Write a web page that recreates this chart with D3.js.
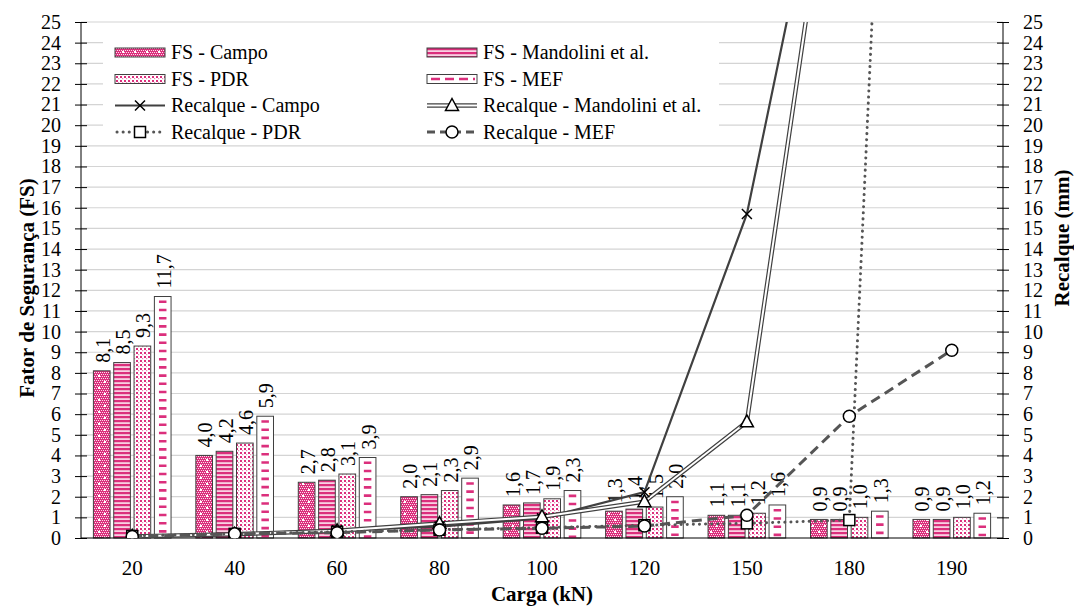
<!DOCTYPE html>
<html>
<head>
<meta charset="utf-8">
<script src="https://cdn.jsdelivr.net/npm/d3@7/dist/d3.min.js"></script>
<style>
  html, body { margin: 0; padding: 0; background: #fff; }
  svg { display: block; }
</style>
</head>
<body>
<svg id="chart" width="1074" height="608"></svg>
<script>
// ---------- DATA ----------
const categories = ["20", "40", "60", "80", "100", "120", "150", "180", "190"];
const fsCampo      = [8.1, 4.0, 2.7, 2.0, 1.6, 1.3, 1.1, 0.9, 0.9];
const fsMandolini  = [8.5, 4.2, 2.8, 2.1, 1.7, 1.4, 1.1, 0.9, 0.9];
const fsPDR        = [9.3, 4.6, 3.1, 2.3, 1.9, 1.5, 1.2, 1.0, 1.0];
const fsMEF        = [11.7, 5.9, 3.9, 2.9, 2.3, 2.0, 1.6, 1.3, 1.2];
const recCampo     = [0.08, 0.2, 0.38, 0.55, 0.95, 2.22, 15.7, 39.6, null];
const recMandolini = [0.08, 0.18, 0.35, 0.7, 1.03, 1.76, 5.63, 39.4, null];
const recPDR       = [0.1, 0.2, 0.3, 0.4, 0.5, 0.62, 0.71, 0.87, 110];
const recMEF       = [0.07, 0.2, 0.26, 0.39, 0.47, 0.58, 1.1, 5.9, 9.1];
const yTicks = d3.range(0, 26);
const fsNames  = ["FS - Campo", "FS - Mandolini et al.", "FS - PDR", "FS - MEF"];
const recNames = ["Recalque - Campo", "Recalque - Mandolini et al.", "Recalque - PDR", "Recalque - MEF"];

// ---------- LAYOUT ----------
const W = 1074, H = 608;
const m = { left: 81, right: 71, top: 22, bottom: 70 };
const x0 = m.left, x1 = W - m.right, yTop = m.top, yBot = H - m.bottom;
const pink = "#db2f7c";
const dark = "#404040";
const FONT = "Liberation Serif";
const fontSize = 20;

const svg = d3.select("#chart").attr("font-family", FONT);
const defs = svg.append("defs");

// patterns
const pCampo = defs.append("pattern").attr("id", "pCampo").attr("patternUnits", "userSpaceOnUse")
  .attr("width", 12).attr("height", 12);
pCampo.append("rect").attr("width", 12).attr("height", 12).attr("fill", pink);
for (let i = 0; i < 6; i++) for (let j = 0; j < 6; j++) {
  pCampo.append("rect").attr("x", i * 2 + (j % 2)).attr("y", j * 2).attr("width", 1).attr("height", 1).attr("fill", "#fbe0ec");
}
pCampo.append("rect").attr("x", 2).attr("y", 3).attr("width", 2).attr("height", 2).attr("fill", "#fff");
pCampo.append("rect").attr("x", 8).attr("y", 9).attr("width", 2).attr("height", 2).attr("fill", "#fff");

const pMand = defs.append("pattern").attr("id", "pMand").attr("patternUnits", "userSpaceOnUse")
  .attr("width", 4).attr("height", 4);
pMand.append("rect").attr("width", 4).attr("height", 4).attr("fill", "#f8d0e2");
pMand.append("rect").attr("width", 4).attr("height", 2.2).attr("fill", pink);

const pPDR = defs.append("pattern").attr("id", "pPDR").attr("patternUnits", "userSpaceOnUse")
  .attr("width", 4).attr("height", 4);
pPDR.append("rect").attr("width", 4).attr("height", 4).attr("fill", "#fff");
pPDR.append("rect").attr("x", 0).attr("y", 0).attr("width", 2).attr("height", 2).attr("fill", pink);
pPDR.append("rect").attr("x", 2).attr("y", 2).attr("width", 1.2).attr("height", 1.2).attr("fill", "#ee8ab8");

defs.append("clipPath").attr("id", "plotClip").append("rect")
  .attr("x", x0).attr("y", yTop).attr("width", x1 - x0).attr("height", yBot - yTop);

// ---------- SCALES ----------
const x = d3.scaleBand().domain(categories).range([x0, x1]).padding(0);
const groupW = x.bandwidth() * 0.758;
const xs = d3.scaleBand().domain(fsNames).range([0, groupW]).paddingInner(0.18).paddingOuter(0);
const y = d3.scaleLinear().domain([0, 25]).range([yBot, yTop]);
const yR = d3.scaleLinear().domain([0, 25]).range([yBot, yTop]);
const cx = c => x(c) + x.bandwidth() / 2;
const gx = c => cx(c) - groupW / 2;

// gridlines
svg.append("g").selectAll("line").data(yTicks.filter(d => d > 0)).join("line")
  .attr("x1", x0).attr("x2", x1).attr("y1", d => y(d)).attr("y2", d => y(d))
  .attr("stroke", "#d4d4d4").attr("stroke-width", 1.2);

// ---------- BARS ----------
const fsSeries = [fsCampo, fsMandolini, fsPDR, fsMEF];
const fills = ["url(#pCampo)", "url(#pMand)", "url(#pPDR)", "#fff"];
const fmt = v => d3.format(".1f")(v).replace(".", ",");

fsSeries.forEach((vals, si) => {
  const data = categories.map((c, i) => ({ c, v: vals[i] }));
  const g = svg.append("g");
  g.selectAll("rect").data(data).join("rect")
    .attr("x", d => gx(d.c) + xs(fsNames[si]))
    .attr("y", d => y(d.v))
    .attr("width", xs.bandwidth())
    .attr("height", d => y(0) - y(d.v))
    .attr("fill", fills[si])
    .attr("stroke", dark).attr("stroke-width", 1);
  if (si === 3) {
    g.selectAll("line.dash").data(data).join("line").attr("class", "dash")
      .attr("x1", d => gx(d.c) + xs(fsNames[si]) + xs.bandwidth() / 2)
      .attr("x2", d => gx(d.c) + xs(fsNames[si]) + xs.bandwidth() / 2)
      .attr("y1", d => y(d.v) + 4).attr("y2", y(0))
      .attr("stroke", pink).attr("stroke-width", 7.5).attr("stroke-dasharray", "2.6,5.6");
  }
  g.selectAll("text").data(data).join("text")
    .attr("transform", d => `translate(${gx(d.c) + xs(fsNames[si]) + xs.bandwidth() / 2 + 1},${y(d.v) - 8}) rotate(-90)`)
    .attr("dy", "0.35em")
    .attr("text-anchor", "start")
    .attr("font-family", FONT)
    .attr("font-size", fontSize)
    .attr("fill", "#000")
    .text(d => fmt(d.v));
});

// ---------- AXES ----------
const axL = svg.append("g").attr("transform", `translate(${x0},0)`)
  .call(d3.axisLeft(y).tickValues(yTicks).tickSize(6).tickPadding(14).tickFormat(d3.format("d")));
axL.selectAll(".tick line").clone().attr("x2", 6);
const axR = svg.append("g").attr("transform", `translate(${x1},0)`)
  .call(d3.axisRight(yR).tickValues(yTicks).tickSize(6).tickPadding(14).tickFormat(d3.format("d")));
axR.selectAll(".tick line").clone().attr("x2", -6);
[axL, axR].forEach(a => {
  a.attr("font-family", FONT);
  a.select(".domain").attr("stroke", "#000").attr("d", `M0,${yTop}V${yBot}`);
  a.selectAll(".tick line").attr("stroke", "#000");
  a.selectAll("text").attr("font-size", fontSize).attr("font-family", FONT).attr("fill", "#000");
});
const axB = svg.append("g").attr("transform", `translate(0,${yBot})`)
  .call(d3.axisBottom(x).tickSize(0).tickPadding(22));
axB.attr("font-family", FONT);
axB.select(".domain").attr("stroke", "#000").attr("d", `M${x0},0H${x1}`);
axB.selectAll("text").attr("font-size", 21).attr("font-family", FONT).attr("fill", "#000");

// ---------- LINES ----------
const lg = svg.append("g").attr("clip-path", "url(#plotClip)");
const mkData = vals => categories.map((c, i) => ({ c, v: vals[i] })).filter(d => d.v !== null);
const line = d3.line().x(d => cx(d.c)).y(d => yR(d.v));

const campoD = mkData(recCampo), mandD = mkData(recMandolini), pdrD = mkData(recPDR), mefD = mkData(recMEF);

lg.append("path").attr("d", line(campoD)).attr("fill", "none").attr("stroke", dark).attr("stroke-width", 2.2);
lg.append("path").attr("d", line(mandD)).attr("fill", "none").attr("stroke", dark).attr("stroke-width", 4.4);
lg.append("path").attr("d", line(mandD)).attr("fill", "none").attr("stroke", "#fff").attr("stroke-width", 2);
lg.append("path").attr("d", line(pdrD)).attr("fill", "none").attr("stroke", "#555").attr("stroke-width", 3)
  .attr("stroke-linecap", "round").attr("stroke-dasharray", "0.1,6");
lg.append("path").attr("d", line(mefD)).attr("fill", "none").attr("stroke", "#555").attr("stroke-width", 3)
  .attr("stroke-dasharray", "10,6");

// markers
function drawX(g, px, py) {
  g.append("path").attr("d", `M${px - 5},${py - 5}L${px + 5},${py + 5}M${px - 5},${py + 5}L${px + 5},${py - 5}`)
    .attr("stroke", "#000").attr("stroke-width", 1.5).attr("fill", "none");
}
function drawTri(g, px, py) {
  g.append("path").attr("d", `M${px},${py - 7}L${px + 6.5},${py + 5}L${px - 6.5},${py + 5}Z`)
    .attr("stroke", "#000").attr("stroke-width", 1.5).attr("fill", "#fff");
}
function drawSq(g, px, py) {
  g.append("rect").attr("x", px - 5.5).attr("y", py - 5.5).attr("width", 11).attr("height", 11)
    .attr("stroke", "#000").attr("stroke-width", 1.5).attr("fill", "#fff");
}
function drawCirc(g, px, py) {
  g.append("circle").attr("cx", px).attr("cy", py).attr("r", 6)
    .attr("stroke", "#000").attr("stroke-width", 1.5).attr("fill", "#fff");
}
campoD.forEach(d => drawX(lg, cx(d.c), yR(d.v)));
mandD.forEach(d => drawTri(lg, cx(d.c), yR(d.v)));
pdrD.forEach(d => drawSq(lg, cx(d.c), yR(d.v)));
mefD.forEach(d => drawCirc(lg, cx(d.c), yR(d.v)));

// ---------- LEGEND ----------
const leg = svg.append("g");
leg.append("rect").attr("x", 103).attr("y", 33).attr("width", 616).attr("height", 109).attr("fill", "#fff");
const colX = [115, 427];
const rowY = [52.5, 79, 105.5, 132];
const entries = [
  { name: fsNames[0], col: 0, row: 0, type: "bar", fill: "url(#pCampo)" },
  { name: fsNames[1], col: 1, row: 0, type: "bar", fill: "url(#pMand)" },
  { name: fsNames[2], col: 0, row: 1, type: "bar", fill: "url(#pPDR)" },
  { name: fsNames[3], col: 1, row: 1, type: "mef" },
  { name: recNames[0], col: 0, row: 2, type: "campo" },
  { name: recNames[1], col: 1, row: 2, type: "mand" },
  { name: recNames[2], col: 0, row: 3, type: "pdr" },
  { name: recNames[3], col: 1, row: 3, type: "mefl" }
];
entries.forEach(e => {
  const sx = colX[e.col], sy = rowY[e.row], sw = 50;
  if (e.type === "bar" || e.type === "mef") {
    leg.append("rect").attr("x", sx).attr("y", sy - 4.5).attr("width", sw).attr("height", 9)
      .attr("fill", e.type === "mef" ? "#fff" : e.fill).attr("stroke", dark).attr("stroke-width", 1);
    if (e.type === "mef") leg.append("line").attr("x1", sx + 4).attr("x2", sx + sw - 2).attr("y1", sy).attr("y2", sy)
      .attr("stroke", pink).attr("stroke-width", 2.5).attr("stroke-dasharray", "9,5");
  } else if (e.type === "campo") {
    leg.append("line").attr("x1", sx).attr("x2", sx + sw).attr("y1", sy).attr("y2", sy).attr("stroke", dark).attr("stroke-width", 2.2);
    drawX(leg, sx + sw / 2, sy);
  } else if (e.type === "mand") {
    leg.append("line").attr("x1", sx).attr("x2", sx + sw).attr("y1", sy).attr("y2", sy).attr("stroke", dark).attr("stroke-width", 4.4);
    leg.append("line").attr("x1", sx).attr("x2", sx + sw).attr("y1", sy).attr("y2", sy).attr("stroke", "#fff").attr("stroke-width", 2);
    drawTri(leg, sx + sw / 2, sy);
  } else if (e.type === "pdr") {
    leg.append("line").attr("x1", sx + 2).attr("x2", sx + sw).attr("y1", sy).attr("y2", sy).attr("stroke", "#555").attr("stroke-width", 3)
      .attr("stroke-linecap", "round").attr("stroke-dasharray", "0.1,6");
    drawSq(leg, sx + sw / 2, sy);
  } else if (e.type === "mefl") {
    leg.append("line").attr("x1", sx).attr("x2", sx + sw).attr("y1", sy).attr("y2", sy).attr("stroke", "#555").attr("stroke-width", 3)
      .attr("stroke-dasharray", "8,5");
    drawCirc(leg, sx + sw / 2, sy);
  }
  leg.append("text").attr("x", sx + sw + 6).attr("y", sy + 6.5).attr("font-family", FONT)
    .attr("font-size", fontSize).attr("fill", "#000").text(e.name);
});

// ---------- TITLES ----------
svg.append("text").attr("transform", "translate(27,288) rotate(-90)").attr("dy", "0.35em")
  .attr("text-anchor", "middle").attr("font-family", FONT).attr("font-size", 21).attr("font-weight", "bold")
  .text("Fator de Segurança (FS)");
svg.append("text").attr("transform", "translate(1062,238) rotate(-90)").attr("dy", "0.35em")
  .attr("text-anchor", "middle").attr("font-family", FONT).attr("font-size", 21).attr("font-weight", "bold")
  .text("Recalque (mm)");
svg.append("text").attr("x", (x0 + x1) / 2).attr("y", 601)
  .attr("text-anchor", "middle").attr("font-family", FONT).attr("font-size", 21).attr("font-weight", "bold")
  .text("Carga (kN)");
</script>
</body>
</html>
